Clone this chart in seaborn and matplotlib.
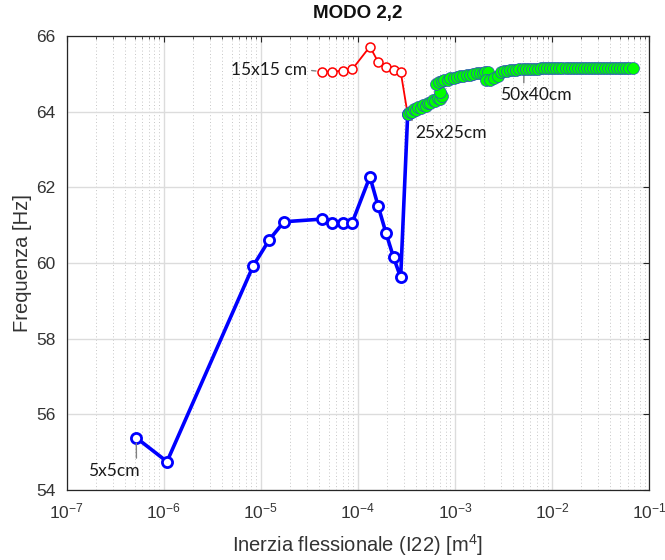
import matplotlib
matplotlib.use("Agg")
import matplotlib.pyplot as plt
from matplotlib.ticker import LogLocator, NullLocator, FixedLocator
import seaborn as sns
import pandas as pd

# Square sections 5x5 ... 25x25 cm (blue)
blue_inertia = [5.21e-7, 1.08e-6, 8.33e-6, 1.22e-5, 1.73e-5, 4.22e-5, 5.46e-5,
                6.96e-5, 8.75e-5, 1.33e-4, 1.62e-4, 1.95e-4, 2.33e-4, 2.76e-4, 3.26e-4]
blue_freq = [55.38, 54.75, 59.92, 60.61, 61.09, 61.16, 61.07,
             61.05, 61.07, 62.28, 61.50, 60.79, 60.15, 59.62, 63.93]

# Square sections 15x15 ... 25x25 cm (red)
red_inertia = [4.22e-5, 5.46e-5, 6.96e-5, 8.75e-5, 1.33e-4, 1.62e-4,
               1.95e-4, 2.33e-4, 2.76e-4, 3.26e-4]
red_freq = [65.06, 65.06, 65.08, 65.12, 65.72, 65.31,
            65.17, 65.10, 65.06, 63.93]

# Rectangular sections from 25x25 cm upwards (green)
green_inertia = [3.26e-4, 3.45e-4, 3.60e-4, 3.80e-4, 4.00e-4, 4.20e-4, 4.45e-4,
                 4.70e-4, 5.00e-4, 5.30e-4, 5.60e-4, 5.95e-4, 6.30e-4, 6.70e-4,
                 7.10e-4, 7.30e-4, 7.00e-4, 6.40e-4, 6.80e-4, 7.30e-4, 7.80e-4,
                 8.40e-4, 9.00e-4, 9.70e-4, 1.05e-3, 1.13e-3, 1.22e-3, 1.32e-3,
                 1.43e-3, 1.55e-3, 1.68e-3, 1.82e-3, 1.96e-3, 2.05e-3, 2.20e-3,
                 2.10e-3, 2.30e-3, 2.50e-3, 2.75e-3, 3.00e-3, 3.20e-3, 3.45e-3,
                 3.70e-3, 4.00e-3, 4.30e-3, 4.60e-3, 5.00e-3, 5.40e-3, 5.80e-3,
                 6.20e-3, 6.70e-3, 7.20e-3, 7.70e-3, 8.30e-3, 8.90e-3, 9.60e-3,
                 1.03e-2, 1.11e-2, 1.19e-2, 1.28e-2, 1.38e-2, 1.48e-2, 1.59e-2,
                 1.71e-2, 1.84e-2, 1.98e-2, 2.13e-2, 2.29e-2, 2.46e-2, 2.64e-2,
                 2.84e-2, 3.05e-2, 3.28e-2, 3.53e-2, 3.79e-2, 4.07e-2, 4.38e-2,
                 4.71e-2, 5.06e-2, 5.44e-2, 5.85e-2, 6.29e-2, 6.80e-2]
green_freq = [63.93, 64.00, 63.98, 64.06, 64.04, 64.12, 64.10,
              64.18, 64.16, 64.24, 64.22, 64.30, 64.27, 64.35,
              64.33, 64.42, 64.52, 64.72, 64.78, 64.80, 64.84,
              64.85, 64.88, 64.89, 64.92, 64.93, 64.95, 64.96,
              64.98, 64.99, 65.01, 65.02, 65.03, 65.04, 65.05,
              64.84, 64.83, 64.88, 64.95, 65.04, 65.07, 65.08,
              65.09, 65.10, 65.11, 65.12, 65.12, 65.13, 65.13,
              65.14, 65.14, 65.14, 65.15, 65.15, 65.15, 65.15,
              65.15, 65.15, 65.15, 65.15, 65.15, 65.16, 65.16,
              65.16, 65.16, 65.16, 65.16, 65.16, 65.16, 65.16,
              65.16, 65.16, 65.16, 65.16, 65.16, 65.16, 65.16,
              65.16, 65.16, 65.16, 65.16, 65.16, 65.16]

x_ticks = [1e-7, 1e-6, 1e-5, 1e-4, 1e-3, 1e-2, 1e-1]
y_ticks = [54, 56, 58, 60, 62, 64, 66]

sns.set_theme(style="white")
plt.rcParams["font.family"] = ["Liberation Sans", "DejaVu Sans"]
plt.rcParams["mathtext.fontset"] = "custom"
plt.rcParams["mathtext.rm"] = "Liberation Sans"
plt.rcParams["mathtext.it"] = "Liberation Sans:italic"
plt.rcParams["mathtext.bf"] = "Liberation Sans:bold"

fig = plt.figure(figsize=(6.65, 5.6), dpi=100)
ax = fig.add_axes([0.1003, 0.125, 0.8757, 0.8107])

blue_df = pd.DataFrame({"I22": blue_inertia, "f": blue_freq})
red_df = pd.DataFrame({"I22": red_inertia, "f": red_freq})
green_df = pd.DataFrame({"I22": green_inertia, "f": green_freq})

sns.lineplot(data=blue_df, x="I22", y="f", ax=ax, sort=False, estimator=None,
             color="#0000ff", linewidth=2.6, marker="o", markersize=7.3,
             markerfacecolor="white", markeredgecolor="#0000ff",
             markeredgewidth=2.0, zorder=3)
sns.lineplot(data=red_df, x="I22", y="f", ax=ax, sort=False, estimator=None,
             color="#ff0000", linewidth=1.3, marker="o", markersize=6.5,
             markerfacecolor="white", markeredgecolor="#ff0000",
             markeredgewidth=1.1, zorder=4)
sns.lineplot(data=green_df, x="I22", y="f", ax=ax, sort=False, estimator=None,
             color="#2020e0", linewidth=1.0, marker="o", markersize=8.6,
             markerfacecolor="#00ff00", markeredgecolor="#3050c0",
             markeredgewidth=0.5, zorder=5)

ax.set_xscale("log")
ax.set_xlim(1e-7, 1e-1)
ax.set_ylim(54, 66)
ax.xaxis.set_major_locator(FixedLocator(x_ticks))
ax.xaxis.set_minor_locator(LogLocator(base=10, subs=range(2, 10), numticks=20))
ax.yaxis.set_major_locator(FixedLocator(y_ticks))
ax.yaxis.set_minor_locator(NullLocator())

ax.grid(which="major", color="#dcdcdc", linewidth=1.0, linestyle="-")
ax.grid(which="minor", axis="x", color="#c6c6c6", linewidth=0.7, linestyle=(0, (1, 2.5)))
ax.set_axisbelow(True)

for side in ax.spines.values():
    side.set_visible(True)
    side.set_color("#262626")
    side.set_linewidth(0.9)

ax.tick_params(which="both", direction="in", top=True, right=True,
               colors="#262626", labelcolor="#333333")
ax.tick_params(which="major", length=4, width=0.8, labelsize=12.5, pad=8)
ax.tick_params(which="minor", length=2, width=0.6)

ax.set_title("MODO 2,2", fontsize=13.5, fontweight="bold", color="#111111", pad=13)
ax.set_xlabel("Inerzia flessionale (I22) [m$^{4}$]", fontsize=14.5,
              color="#333333", labelpad=8)
ax.set_ylabel("Frequenza [Hz]", fontsize=14.5, color="#333333", labelpad=3)

note_font = dict(fontsize=12.5, family=["Lato", "DejaVu Sans"], color="#1a1a1a")
leader = dict(arrowstyle="-", color="#808080", lw=1.0, shrinkA=1, shrinkB=4)

ax.annotate("15x15 cm", xy=(red_inertia[0], red_freq[0]), xytext=(2.99e-5, 65.10),
            ha="right", va="center", arrowprops=dict(leader, relpos=(1.0, 0.5)),
            **note_font)
ax.annotate("25x25cm", xy=(green_inertia[0], green_freq[0]), xytext=(3.9e-4, 63.65),
            ha="left", va="top", arrowprops=dict(leader, relpos=(0.0, 1.0)),
            **note_font)
ax.annotate("50x40cm", xy=(5.15e-3, 65.13), xytext=(2.92e-3, 64.64),
            ha="left", va="top", arrowprops=dict(leader, relpos=(0.33, 1.0)),
            **note_font)
ax.annotate("5x5cm", xy=(blue_inertia[0], blue_freq[0]), xytext=(5.7e-7, 54.72),
            ha="right", va="top", arrowprops=dict(leader, relpos=(0.93, 1.0)),
            **note_font)

fig.savefig("out.png", dpi=100)
